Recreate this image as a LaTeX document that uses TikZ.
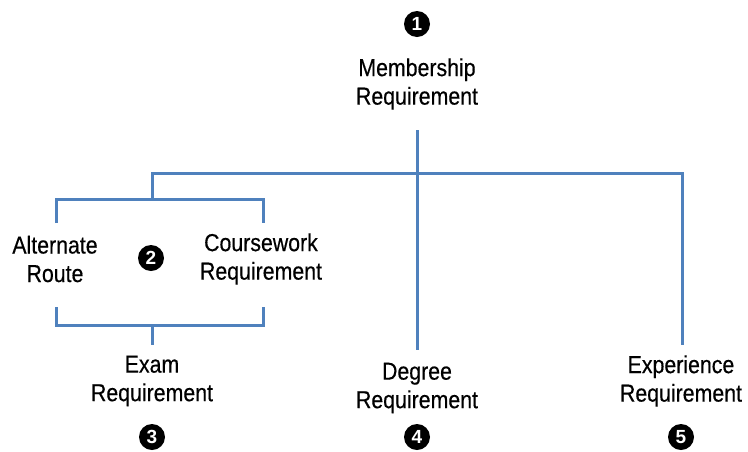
\documentclass[tikz,border=0pt]{standalone}
\usepackage{fontspec}
\setmainfont{Liberation Sans}[FakeStretch=0.87,FakeBold=0.4]
\newfontfamily\numfont{Liberation Sans}
\begin{document}
\begin{tikzpicture}[x=1pt,y=-1pt,
  lbl/.style={align=center,inner sep=0pt,font=\fontsize{24.5}{28.5}\selectfont},
  num/.style={circle,fill=black,text=white,minimum size=26pt,inner sep=0pt,font=\numfont\bfseries\fontsize{19}{19}\selectfont},
  conn/.style={draw={rgb,255:red,79;green,129;blue,189},line width=3pt}]
\useasboundingbox (0,0) rectangle (748,451);
% labels
\node[lbl] (mem) at (417,84) {Membership\\Requirement};
\node[lbl] (alt) at (55,259) {Alternate\\Route};
\node[lbl] (cw) at (261,259) {Coursework\\Requirement};
\node[lbl] (exam) at (152,381) {Exam\\Requirement};
\node[lbl] (deg) at (417,388) {Degree\\Requirement};
\node[lbl] (exp) at (681,381) {Experience\\Requirement};
% numbers
\node[num] (n1) at (417,24) {1};
\node[num] (n2) at (151,258) {2};
\node[num] (n3) at (152,437) {3};
\node[num] (n4) at (417,437) {4};
\node[num] (n5) at (681,437) {5};
% junction coordinates
\coordinate (memb) at (417,130);
\coordinate (hub) at (417,173);
\coordinate (hl) at (152,173);
\coordinate (hr) at (682,173);
\coordinate (btop) at (152,199);
\coordinate (btl) at (56,199);
\coordinate (btr) at (263,199);
\coordinate (alttop) at (56,223);
\coordinate (cwtop) at (263,223);
\coordinate (altbot) at (56,307);
\coordinate (cwbot) at (263,307);
\coordinate (bbl) at (56,325);
\coordinate (bbr) at (263,325);
\coordinate (bbot) at (152,325);
\coordinate (examtop) at (152,345);
\coordinate (degtop) at (417,350);
\coordinate (exptop) at (682,345);
% connectors
\draw[conn] (memb) -- (hub);
\draw[conn,line join=miter] (btop) -- (hl) -- (hr) -- (exptop);
\draw[conn] (hub) -- (degtop);
\draw[conn,line join=miter] (alttop) -- (btl) -- (btr) -- (cwtop);
\draw[conn,line join=miter] (altbot) -- (bbl) -- (bbr) -- (cwbot);
\draw[conn] (bbot) -- (examtop);
\end{tikzpicture}
\end{document}
